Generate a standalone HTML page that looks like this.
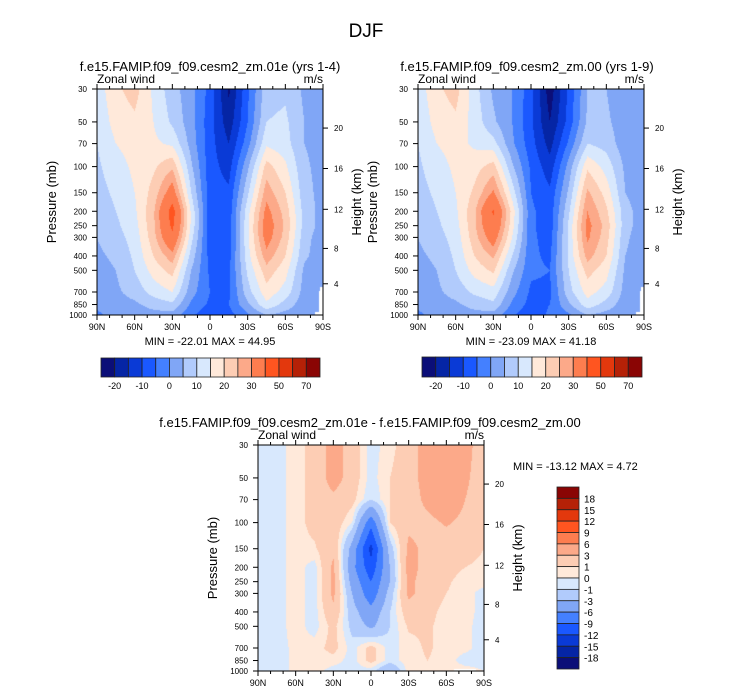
<!DOCTYPE html>
<html><head><meta charset="utf-8">
<style>
html,body{margin:0;padding:0;background:#fff;}
#wrap{position:relative;width:733px;height:696px;overflow:hidden;font-family:"Liberation Sans",Arial,sans-serif;}
canvas{position:absolute;}
svg{position:absolute;left:0;top:0;}
text{font-family:"Liberation Sans",Arial,sans-serif;fill:#000;}
</style></head>
<body>
<div id="wrap">
<canvas id="c1" width="226" height="226" style="left:97px;top:89px"></canvas>
<canvas id="c2" width="226" height="226" style="left:418px;top:89px"></canvas>
<canvas id="c3" width="226" height="226" style="left:258px;top:445px"></canvas>
<svg id="svg" width="733" height="696"></svg>
</div>
<script>
// ---- data ----
const lats = [90,75,60,45,30,15,0,-15,-30,-45,-60,-75,-90];
const plevs = [30,50,70,100,150,200,250,300,400,500,700,850,1000];
const levelsTop = [-20,-15,-10,-5,0,5,10,15,20,25,30,40,50,60,70];
const levelsDiff = [-18,-15,-12,-9,-6,-3,-1,0,1,3,6,9,12,15,18];
const labelsTop = ['-20','-10','0','10','20','30','50','70'];
const labelsDiff = ['18','15','12','9','6','3','1','0','-1','-3','-6','-9','-12','-15','-18'];
const pTicks = [30,50,70,100,150,200,250,300,400,500,700,850,1000];
const hTicks = [4,8,12,16,20];
const hTickPressures = [616,356,194,103,55];
const latTicks = [90,60,30,0,-30,-60,-90];
const latTickLabels = ['90N','60N','30N','0','30S','60S','90S'];
const field1 = [
[12,19,22,14,7,2,-7,-21,-6,8,9,4,3],
[11,17,19,15,9,2,-8,-18,-5,10,11,5,3],
[10,15,17,16,14,3,-8,-15,-2,14,12,5,3],
[9,13,16,19,24,6,-8,-12,4,22,16,6,3],
[8,11,15,22,34,10,-8,-9,9,28,20,7,3],
[7,10,14,24,44,14,-8,-8,13,32,23,8,3],
[6,9,13,24,42,14,-8,-8,14,34,24,8,3],
[5,8,12,23,38,12,-8,-8,14,33,23,7,2],
[4,6,11,20,28,8,-7,-7,13,28,20,6,2],
[3,5,10,17,22,5,-6,-6,11,23,17,4,1],
[2,4,7,12,15,2,-5,-6,8,18,13,3,1],
[1,3,4,7,9,-1,-6,-5,4,14,8,2,1],
[-1,2,2,3,3,-4,-9,-7,-1,5,3,2,1]];
const field2 = [
[12,19,22,12,4,0,-8,-23,-9,5,5,1,2],
[11,17,19,13,6,0,-9,-20,-8,6,6,2,2],
[10,15,17,14,12,1,-8,-17,-4,10,8,2,2],
[9,13,16,18,22,6,-6,-13,2,19,13,4,2],
[8,11,15,21,31,13,-5,-9,6,26,18,5,2],
[7,10,14,24,41,18,-4,-8,9,30,21,7,2],
[6,9,13,24,38,17,-4,-8,11,32,23,7,2],
[5,8,12,23,34,15,-4,-7,11,31,22,6,2],
[4,6,11,20,26,10,-4,-6,11,27,20,5,2],
[3,5,10,17,21,6,-4,-5,10,22,17,4,1],
[2,4,7,11,13,2,-6,-6,8,17,13,3,1],
[1,3,4,7,9,-1,-7,-5,4,13,8,2,1],
[-1,2,2,3,3,-4,-9,-4,-1,5,3,2,1]];
const fieldDiff = [
[-0.5,-0.5,0.5,1.5,4,2,-0.5,0.5,2,4,5,4,1.5],
[-0.5,-0.5,0.5,1.5,4,2,-0.5,1,2,4,5,3.5,1.5],
[-0.5,-0.5,0.5,1.5,2.5,1.5,-1,1,2,3.5,4.5,3,1.5],
[-0.5,-0.5,0.5,1.5,2,0,-8,1,2.5,2.5,3.2,2.5,1],
[-0.5,-0.5,0.5,0.8,2.5,-4,-13,-2,3.5,2.5,2,2,1],
[-0.5,-0.5,0.5,-0.5,3.5,-5,-11,-3,4,2,1.5,1,0.5],
[-0.5,-0.5,0.5,-0.5,3.5,-4,-9,-3,3.5,2,1.2,0.5,0.5],
[-0.5,-0.5,0.5,-0.5,3.5,-3,-8,-2,3.5,2,1,0.5,-0.5],
[-0.5,-0.5,0.5,-0.5,2.5,-2,-5,-1,2,1.5,0.5,0.5,-0.5],
[-0.5,-0.5,0.5,-0.5,1.5,-1.5,-3.5,-1,1.2,1.2,0.5,0.3,-0.5],
[-0.5,-0.5,0.3,0.5,1.5,-0.5,1.5,-0.5,0.5,1.2,0.5,0.3,-0.5],
[-0.5,-0.5,0.3,0.5,0.5,-0.5,1.5,-0.5,0.5,1,0.5,-0.5,-0.5],
[-0.5,-0.5,0.3,0.5,-0.5,-0.5,-0.5,-3,0.5,0.5,0.5,0.5,0]];
const colors = ['#0b0e78','#0525a5','#0a3ad6','#1a58ff','#4480ff','#80a6f6','#b1cbfc','#d8e8fd','#ffe9da','#fdcdb4','#fca989','#fd7d4f','#ff5520','#e3380d','#b52107','#8a0504'];

// ---- geometry ----
const W=226,H=226;
const LN30=Math.log(30), LN1000=Math.log(1000);
function yOfP(p){return (Math.log(p)-LN30)/(LN1000-LN30)*H;}
function xOfLat(l){return (90-l)/180*W;}
const lnLev = plevs.map(p=>Math.log(p));

function sample(f,lat,lnp){
  let ci=(90-lat)/15; ci=Math.max(0,Math.min(lats.length-1.0001,ci));
  const c0=Math.floor(ci), tc=ci-c0;
  let r0=0; while(r0<lnLev.length-2 && lnp>lnLev[r0+1]) r0++;
  let tr=(lnp-lnLev[r0])/(lnLev[r0+1]-lnLev[r0]); tr=Math.max(0,Math.min(1,tr));
  const a=f[r0][c0],b=f[r0][c0+1],c=f[r0+1][c0],d=f[r0+1][c0+1];
  return (a*(1-tc)+b*tc)*(1-tr)+(c*(1-tc)+d*tc)*tr;
}
function colorFor(v,levels){let i=0;while(i<levels.length&&v>=levels[i])i++;return colors[i];}
function hexRgb(h){return [parseInt(h.substr(1,2),16),parseInt(h.substr(3,2),16),parseInt(h.substr(5,2),16)];}

function drawField(id,f,levels,maskType){
  const ctx=document.getElementById(id).getContext('2d');
  const img=ctx.createImageData(W,H);
  for(let j=0;j<H;j++){
    const lnp=LN30+(j+0.5)/H*(LN1000-LN30); const p=Math.exp(lnp);
    for(let i=0;i<W;i++){
      const lat=90-(i+0.5)/W*180;
      let rgb;
      let masked=false;
      if(maskType===1){ if((lat<-84&&p>950)||(lat<-86.5&&p>690)||(lat<-88&&p>650)) masked=true; }
      if(maskType===2){ if(lat<-66&&lat>-84&&p>965) masked=true; }
      if(masked) rgb=[255,255,255];
      else rgb=hexRgb(colorFor(sample(f,lat,lnp),levels));
      const k=(j*W+i)*4; img.data[k]=rgb[0];img.data[k+1]=rgb[1];img.data[k+2]=rgb[2];img.data[k+3]=255;
    }
  }
  ctx.putImageData(img,0,0);
}
drawField('c1',field1,levelsTop,1);
drawField('c2',field2,levelsTop,1);
drawField('c3',fieldDiff,levelsDiff,2);

// ---- svg overlay ----
const svg=document.getElementById('svg');
const NS='http://www.w3.org/2000/svg';
function el(tag,attrs,parent){const e=document.createElementNS(NS,tag);for(const k in attrs)e.setAttribute(k,attrs[k]);(parent||svg).appendChild(e);return e;}
function txt(s,x,y,size,anchor,parent,rot){const t=el('text',{x:x,y:y,'font-size':size,'text-anchor':anchor||'start'},parent);if(rot)t.setAttribute('transform','rotate(-90 '+x+' '+y+')');t.textContent=s;return t;}

let t=txt('DJF',366,37,19,'middle');



function panel(x0,y0,title,titleX,minmax,mmX,mmY,mmAnchor,name){
  const g=el('g',{});
  
  
  let a=txt(title,titleX,y0-18,13,'middle',g);
  
  
  a=txt('Zonal wind',x0,y0-6,12,'start',g);
  
  
  a=txt('m/s',x0+W,y0-6,12,'end',g);
  
  
  el('rect',{x:x0,y:y0,width:W,height:H,fill:'none',stroke:'#000','stroke-width':1},g);
  for(let l=90;l>=-90;l-=10){
    const x=x0+xOfLat(l); const major=(l%30===0);
    const len=major?5:3;
    el('line',{x1:x,y1:y0+H,x2:x,y2:y0+H+len,stroke:'#000','stroke-width':1},g);
    el('line',{x1:x,y1:y0,x2:x,y2:y0-len,stroke:'#000','stroke-width':1},g);
  }
  latTicks.forEach((l,i)=>{
    const a=txt(latTickLabels[i],x0+xOfLat(l),y0+H+15,9,'middle',g);
    
    
  });
  pTicks.forEach(p=>{
    const y=y0+yOfP(p);
    el('line',{x1:x0,y1:y,x2:x0-5,y2:y,stroke:'#000','stroke-width':1},g);
    const a=txt(String(p),x0-10,y+3,8,'end',g);
    
    
  });
  hTicks.forEach((h,i)=>{
    const y=y0+yOfP(hTickPressures[i]);
    el('line',{x1:x0+W,y1:y,x2:x0+W+5,y2:y,stroke:'#000','stroke-width':1},g);
    const a=txt(String(h),x0+W+11,y+3,8,'start',g);
    
    
  });
  a=txt('Pressure (mb)',x0-41,y0+H/2,13,'middle',g,true);
  
  
  a=txt('Height (km)',x0+W+38,y0+H/2,13,'middle',g,true);
  
  
  a=txt(minmax,mmX,mmY,11,mmAnchor,g);
  
  
}
panel(97,89,'f.e15.FAMIP.f09_f09.cesm2_zm.01e (yrs 1-4)',210,'MIN = -22.01  MAX =  44.95',210,345,'middle','panel-1');
panel(418,89,'f.e15.FAMIP.f09_f09.cesm2_zm.00 (yrs 1-9)',527,'MIN = -23.09  MAX =  41.18',531,345,'middle','panel-2');
panel(258,445,'f.e15.FAMIP.f09_f09.cesm2_zm.01e - f.e15.FAMIP.f09_f09.cesm2_zm.00',370,'MIN = -13.12  MAX =  4.72',513,470,'start','panel-diff');

function hbar(x0,y0,w,h,name){
  const g=el('g',{});
  
  
  const n=colors.length, bw=w/n;
  colors.forEach((c,i)=>{
    const r=el('rect',{x:x0+i*bw,y:y0,width:bw,height:h,fill:c,stroke:'#222','stroke-width':0.8},g);
    
    
  });
  labelsTop.forEach((s,k)=>{
    const a=txt(s,x0+(1+2*k)*bw,y0+h+12,9,'middle',g);
    
    
  });
}
hbar(101,358,219,19,'colorbar-1');
hbar(422,357,220,20,'colorbar-2');

(function(){
  const g=el('g',{});
  
  
  const x0=557,y0=487,w=22,h=182,n=colors.length,bh=h/n;
  for(let i=0;i<n;i++){
    const r=el('rect',{x:x0,y:y0+i*bh,width:w,height:bh,fill:colors[n-1-i],stroke:'#222','stroke-width':0.8},g);
    
    
  }
  labelsDiff.forEach((s,k)=>{
    const a=txt(s,x0+w+5,y0+(k+1)*bh+4,10,'start',g);
    
    
  });
})();
</script>
</body></html>
